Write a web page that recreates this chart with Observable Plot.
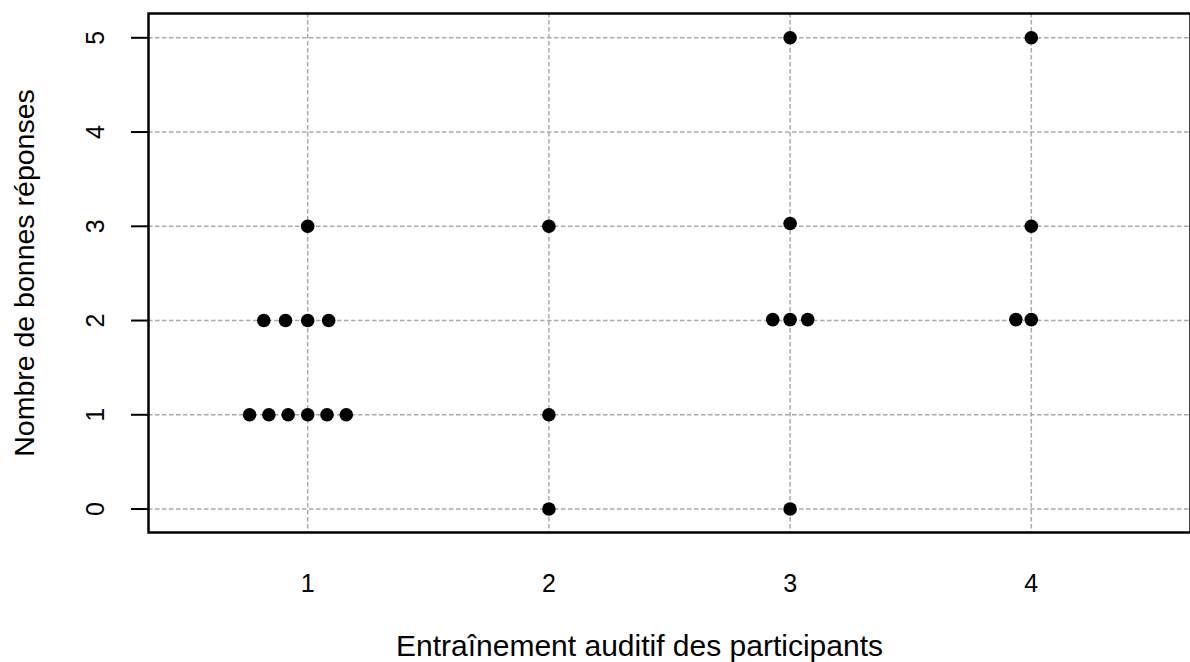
<!DOCTYPE html>
<html><head><meta charset="utf-8">
<script src="https://cdn.jsdelivr.net/npm/d3@7"></script>
<script src="https://cdn.jsdelivr.net/npm/@observablehq/plot@0.6"></script>
<style>html,body{margin:0;padding:0;background:#fff}</style>
</head><body><div id="chart"></div>
<script>
// Groups (auditory training level) of each participant
const training = [1,1,1,1,1,1, 1,1,1,1, 1, 2,2,2, 3,3,3,3,3,3, 4,4,4,4];
// Stacked horizontal positions as drawn
const xPosition = [0.759,0.839,0.919,1.0,1.080,1.160, 0.818,0.908,1.0,1.087, 1.0,
                   2.0,2.0,2.0, 3.0,2.928,3.0,3.073,3.0,3.0, 3.936,4.0,4.0,4.0];
// Number of correct answers
const correct = [1,1,1,1,1,1, 2,2,2,2, 3, 0,1,3, 0,2.01,2.01,2.01,3.03,5, 2.01,2.01,3,5];
const points = training.map((g, i) => ({group: g, x: xPosition[i], y: correct[i]}));

const xTicks = [1, 2, 3, 4];
const yTicks = [0, 1, 2, 3, 4, 5];
const xLabel = "Entraînement auditif des participants";
const yLabel = "Nombre de bonnes réponses";

const FS = 25;
const chart = Plot.plot({
  width: 1190, height: 662,
  marginLeft: 148, marginRight: 0, marginTop: 13, marginBottom: 130,
  x: {domain: [0.34, 4.66], axis: null},
  y: {domain: [-0.249, 5.258], axis: null},
  style: {fontFamily: "'Liberation Sans', Arial, Helvetica, sans-serif", background: "#fff", color: "black"},
  marks: [
    Plot.gridX(xTicks, {stroke: "#aaaaaa", strokeOpacity: 1, strokeDasharray: "4.5,2.5", strokeWidth: 1.5}),
    Plot.gridY(yTicks, {stroke: "#aaaaaa", strokeOpacity: 1, strokeDasharray: "4.5,2.5", strokeWidth: 1.5}),
    Plot.axisY({ticks: yTicks, tickSize: 17, tickFormat: () => "", label: null, strokeWidth: 2}),
    Plot.text(xTicks, {x: d => d, frameAnchor: "bottom", dy: 51, fontSize: FS, lineAnchor: "middle", text: d => String(d)}),
    Plot.text(yTicks, {y: d => d, frameAnchor: "left", dx: -53, rotate: -90, fontSize: FS, lineAnchor: "middle", textAnchor: "middle", text: d => String(d)}),
    Plot.text([xLabel], {frameAnchor: "bottom", dx: -30, dy: 123, fontSize: 30, lineAnchor: "bottom", textAnchor: "middle", text: d => d}),
    Plot.text([yLabel], {frameAnchor: "left", dx: -124, rotate: -90, fontSize: 28.5, lineAnchor: "middle", textAnchor: "middle", text: d => d}),
    Plot.frame({stroke: "black", strokeWidth: 2.5}),
    Plot.dot(points, {x: "x", y: "y", r: 6.8, fill: "black", stroke: "none"})
  ]
});
document.getElementById("chart").appendChild(chart);
</script>
</body></html>
